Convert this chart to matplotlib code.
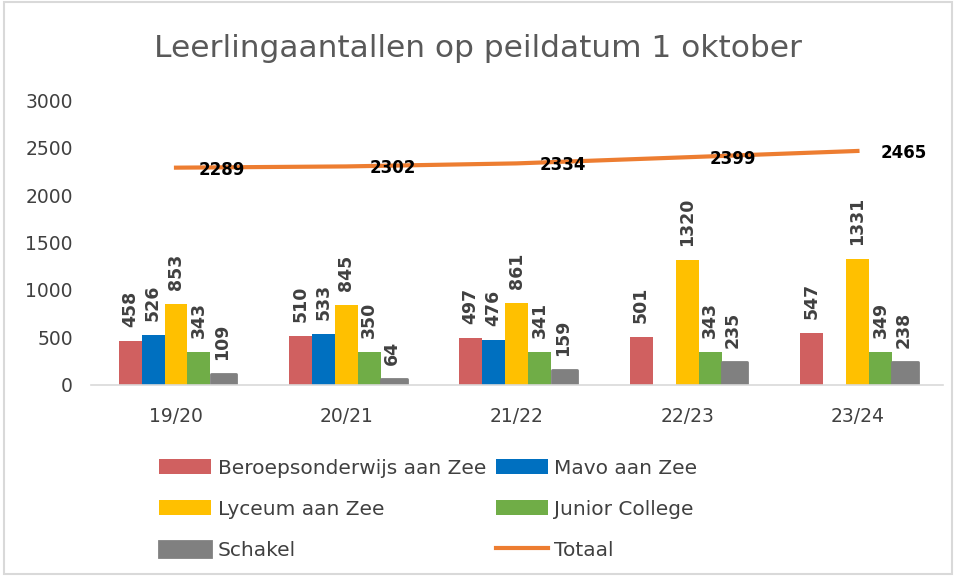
import numpy as np
import matplotlib
matplotlib.use("Agg")
import matplotlib.pyplot as plt
from matplotlib.patches import Rectangle

# data
years = ["19/20", "20/21", "21/22", "22/23", "23/24"]
beroeps = [458, 510, 497, 501, 547]
mavo = [526, 533, 476, np.nan, np.nan]
lyceum = [853, 845, 861, 1320, 1331]
junior = [343, 350, 341, 343, 349]
schakel = [109, 64, 159, 235, 238]
totaal = [2289, 2302, 2334, 2399, 2465]

series = [
    ("Beroepsonderwijs aan Zee", beroeps, "#D06060"),
    ("Mavo aan Zee", mavo, "#0070C0"),
    ("Lyceum aan Zee", lyceum, "#FFC000"),
    ("Junior College", junior, "#70AD47"),
    ("Schakel", schakel, "#808080"),
]

plt.rcParams["font.family"] = ["DejaVu Sans"]
text_col = "#404040"

fig = plt.figure(figsize=(9.56, 5.76), dpi=100)
ax = fig.add_axes([0.095, 0.332, 0.891, 0.494])

x = np.arange(len(years))
w = 0.135
handles = {}
for i, (name, vals, col) in enumerate(series):
    pos = x + (i - 2) * w
    if name == "Schakel":
        b = ax.bar(pos + 0.01, vals, w * 1.1, color=col, edgecolor=col,
                   linewidth=2, joinstyle="round", zorder=2)
    else:
        b = ax.bar(pos, vals, w, color=col, zorder=2)
    handles[name] = b
    for px, v in zip(pos, vals):
        if np.isnan(v):
            continue
        ax.annotate(f"{v:.0f}", (px, v), xytext=(0, 14), textcoords="offset pixels",
                    rotation=90, ha="center", va="bottom", fontsize=12.5,
                    fontweight="bold", color=text_col)

line, = ax.plot(x, totaal, color="#ED7D31", linewidth=3, zorder=3)
for px, v in zip(x, totaal):
    ax.annotate(str(v), (px, v), xytext=(46, -2), textcoords="offset pixels",
                ha="center", va="center", fontsize=12, fontweight="bold",
                color="black", zorder=4)

ax.set_xlim(-0.5, len(years) - 0.5)
ax.set_ylim(0, 3000)
ax.set_yticks(range(0, 3001, 500))
ax.set_xticks(x)
ax.set_xticklabels(years)
ax.tick_params(axis="both", length=0, labelsize=13.5, colors=text_col)
ax.tick_params(axis="x", pad=16)
ax.tick_params(axis="y", pad=13)
for s in ["top", "right", "left"]:
    ax.spines[s].set_visible(False)
ax.spines["bottom"].set_color("#D9D9D9")
ax.spines["bottom"].set_linewidth(1.2)

fig.text(0.5, 0.915, "Leerlingaantallen op peildatum 1 oktober", ha="center",
         va="center", fontsize=22.5, color="#595959")

order = ["Beroepsonderwijs aan Zee", "Lyceum aan Zee", "Schakel",
         "Mavo aan Zee", "Junior College"]
hs = [handles[n] for n in order] + [line]
labels = order + ["Totaal"]
fig.legend(hs, labels, ncol=2, loc="center", bbox_to_anchor=(0.448, 0.116),
           frameon=False, fontsize=14.5, labelcolor=text_col, handlelength=2.6,
           handleheight=0.8, handletextpad=0.3, columnspacing=0.5,
           labelspacing=1.1)

fig.patches.append(Rectangle((0.004, 0.004), 0.992, 0.992, transform=fig.transFigure,
                             fill=False, edgecolor="#D9D9D9", linewidth=1.5))

fig.savefig("out.png", dpi=100)
